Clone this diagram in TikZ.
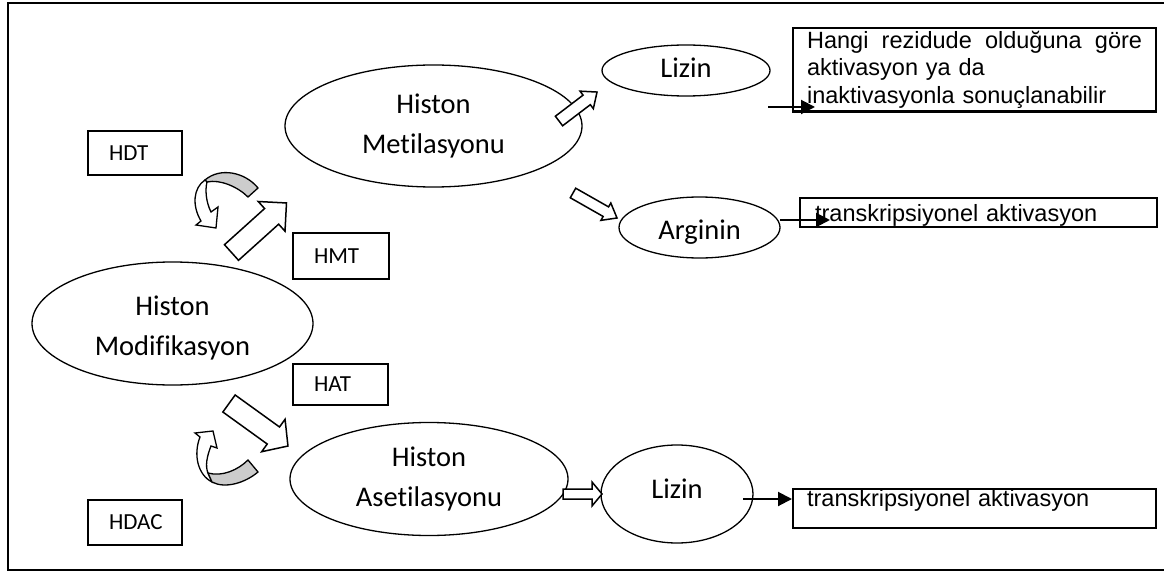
\documentclass[tikz,border=0pt]{standalone}
\usepackage{fontspec}
\newfontfamily\calfont{Carlito}[Ligatures={NoCommon}]
\newfontfamily\arialfont{Liberation Sans}
\usetikzlibrary{shapes.geometric,arrows.meta}
\newcommand\blockarrow[6]{% #1 tail, #2 angle, #3 length, #4 shaft half width, #5 head half width, #6 head length
  \draw[blockarr, shift={#1}, rotate=#2] (0,#4) -- ({#3-#6},#4) -- ({#3-#6},#5) -- (#3,0) -- ({#3-#6},-#5) -- ({#3-#6},-#4) -- (0,-#4) -- cycle;}
\begin{document}
\begin{tikzpicture}[x=1pt,y=-1pt,
  ell/.style={draw, ellipse, line width=1.3pt, inner sep=0pt, align=center, font=\calfont\fontsize{28.5}{40}\selectfont},
  ebox/.style={draw, rectangle, line width=1.3pt, inner xsep=21pt, inner ysep=0pt, align=left, font=\calfont\fontsize{23}{27}\selectfont},
  abox/.style={draw, rectangle, line width=2.2pt, align=left, anchor=north west, font=\arialfont\fontsize{23.5}{27.5}\selectfont},
  blockarr/.style={draw, fill=white, line width=1.5pt, line join=miter},
  thinarr/.style={line width=2pt, -{Triangle[length=14pt,width=14pt]}},
  curvgray/.style={draw, fill=black!20, line width=1.3pt},
  curvwhite/.style={draw, fill=white, line width=1.3pt},
  frame/.style={line width=2pt}
]
\useasboundingbox (0,0) rectangle (1164,572);
% frame (right side lies outside the picture)
\draw[frame] (1175,3.5) -- (7.5,3.5) -- (7.5,569.5) -- (1175,569.5);

% ellipses
\node[ell, minimum width=281pt, minimum height=123pt] (hm) at (172.5,323.5) {\rule{0pt}{29pt}Histon\\Modifikasyon\rule[-6pt]{0pt}{6pt}};
\node[ell, minimum width=297pt, minimum height=122pt] (hmet) at (433.5,126) {Histon\\Metilasyonu};
\node[ell, minimum width=278pt, minimum height=113pt] (hase) at (429,479) {Histon\\Asetilasyonu};
\node[ell, minimum width=168pt, minimum height=51pt, text height=18pt, text depth=3pt] (liz1) at (686,70.5) {Lizin};
\node[ell, minimum width=161pt, minimum height=61pt, text height=25pt, text depth=0pt] (arg) at (699.5,227.5) {Arginin};
\node[ell, minimum width=152pt, minimum height=98pt, text height=18pt, text depth=10pt] (liz2) at (677,494) {Lizin};

% enzyme boxes
\node[ebox, minimum width=94pt, minimum height=44pt, text width=52pt] (hdt) at (135,153) {HDT};
\node[ebox, minimum width=96pt, minimum height=46pt, text width=54pt] (hmt) at (341,256) {HMT};
\node[ebox, minimum width=95pt, minimum height=41pt, text width=53pt] (hat) at (340.5,384.5) {HAT};
\node[ebox, minimum width=94pt, minimum height=45pt, text width=52pt] (hdac) at (135,522.5) {HDAC};

% result boxes
\node[abox, text width=335pt, inner xsep=14pt, inner ysep=3pt] (res) at (792,27) {Hangi\hfill rezidude\hfill olduğuna\hfill göre\\aktivasyon ya da\\inaktivasyonla sonuçlanabilir};
\node[abox, text width=327pt, inner xsep=15pt, inner ysep=0pt, text height=23pt, text depth=6pt] (tr1) at (799,197) {transkripsiyonel aktivasyon};
\node[abox, text width=335pt, inner xsep=14pt, inner ysep=0pt, text height=17pt, text depth=22pt] (tr2) at (792,488) {transkripsiyonel aktivasyon};

% block arrows
\blockarrow{(231.5,252.5)}{42}{74}{10.5}{20}{20}
\blockarrow{(229,403.5)}{-35.8}{72.7}{10.5}{20}{18}
\blockarrow{(559,121)}{37.3}{47.8}{6}{11}{13}
\blockarrow{(573,193)}{-29.6}{50.6}{5.5}{10}{12.8}
\blockarrow{(563,494)}{0}{39}{5}{12}{10}

% curved arrows (top)
\draw[curvgray] (205,180) .. controls (220,167) and (245,172) .. (258,188) -- (248,197) .. controls (238,187) and (220,179) .. (207,182) -- cycle;
\draw[curvwhite] (205,180) .. controls (193,188) and (192,206) .. (201,221) -- (196,225) -- (216,228) -- (218,207) -- (211,212) .. controls (206,202) and (205,190) .. (207,182) -- cycle;
% curved arrows (bottom)
\draw[curvwhite] (212,482) .. controls (198,475) and (193,455) .. (200,437) -- (195,433) -- (213,431) -- (217,448) -- (211,446) .. controls (207,456) and (205,466) .. (208,473) -- cycle;
\draw[curvgray] (212,482) .. controls (225,489) and (245,483) .. (258,472) -- (248,460) .. controls (238,470) and (222,477) .. (208,473) -- cycle;

% thin arrows
\coordinate (a1s) at (768,107); \coordinate (a1e) at (815,107);
\coordinate (a2s) at (780,220); \coordinate (a2e) at (830,220);
\coordinate (a3s) at (743,499); \coordinate (a3e) at (792,499);
\draw[thinarr] (a1s) -- (a1e);
\draw[thinarr] (a2s) -- (a2e);
\draw[thinarr] (a3s) -- (a3e);
\end{tikzpicture}
\end{document}
